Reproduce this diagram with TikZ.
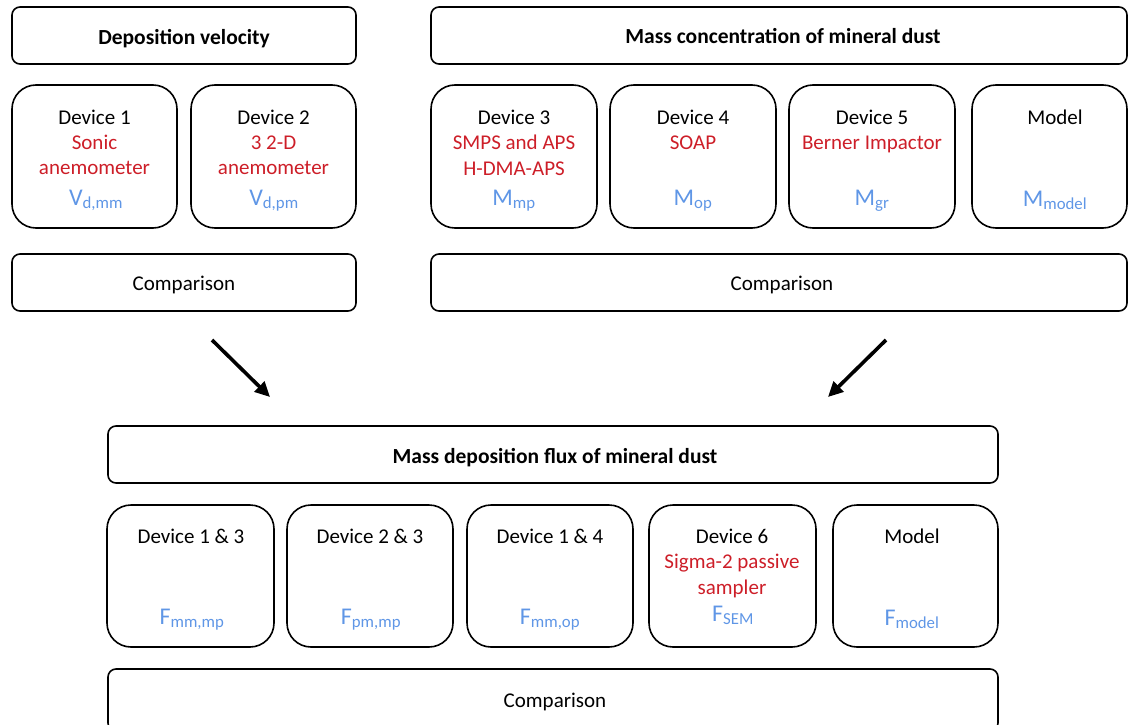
\documentclass[tikz,border=0pt]{standalone}
\usepackage{fontspec}
\setmainfont{Carlito}
\usetikzlibrary{arrows.meta}
\definecolor{devred}{RGB}{205,30,40}
\definecolor{qblue}{RGB}{95,150,230}
\begin{document}
\begin{tikzpicture}[x=1pt,y=-1pt,
  hdrbox/.style={draw=black, line width=1.6pt, rounded corners=8pt, inner sep=0pt},
  devbox/.style={draw=black, line width=1.6pt, rounded corners=24pt, inner sep=0pt},
  txt/.style={anchor=base, inner sep=0pt, font=\fontsize{21}{25}\selectfont},
  hdrtxt/.style={txt, font=\fontsize{21.5}{25}\selectfont\bfseries},
  red/.style={txt, text=devred},
  qty/.style={txt, text=qblue, font=\fontsize{24}{25}\selectfont},
  bigarrow/.style={line width=3.6pt, -{Triangle[length=15pt,width=14pt]}}]
\useasboundingbox (0,0) rectangle (1132,725);
\clip (0,0) rectangle (1132,725);
% ---- top left block
\node[hdrbox, minimum width=344, minimum height=57] (dv) at (184,35.5) {};
\node[hdrtxt] (dvt) at (184,45) {Deposition velocity};
\node[devbox, minimum width=165, minimum height=143] (d1) at (94.5,156.5) {};
\node[devbox, minimum width=165, minimum height=143] (d2) at (273.5,156.5) {};
\node[hdrbox, minimum width=344, minimum height=57] (c1) at (184,282.5) {};
\node[txt] (c1t) at (184,290) {Comparison};
\node[txt] (d1a) at (94.5,124) {Device 1};
\node[red] (d1b) at (94.5,149) {Sonic};
\node[red] (d1c) at (94.5,174) {anemometer};
\node[qty] (d1q) at (96,205) {V\textsubscript{d,mm}};
\node[txt] (d2a) at (273.5,124) {Device 2};
\node[red] (d2b) at (273.5,149) {3 2-D};
\node[red] (d2c) at (273.5,174) {anemometer};
\node[qty] (d2q) at (274,205) {V\textsubscript{d,pm}};
% ---- top right block
\node[hdrbox, minimum width=696, minimum height=57] (mc) at (779,35.5) {};
\node[hdrtxt] (mct) at (783,44) {Mass concentration of mineral dust};
\node[devbox, minimum width=166, minimum height=143] (d3) at (514,156.5) {};
\node[devbox, minimum width=166, minimum height=143] (d4) at (693,156.5) {};
\node[devbox, minimum width=166, minimum height=143] (d5) at (872,156.5) {};
\node[devbox, minimum width=155, minimum height=143] (m1) at (1049.5,156.5) {};
\node[hdrbox, minimum width=696, minimum height=57] (c2) at (779,282.5) {};
\node[txt] (c2t) at (782,290) {Comparison};
\node[txt] (d3a) at (514,124) {Device 3};
\node[red] (d3b) at (514,149) {SMPS and APS};
\node[red] (d3c) at (514,175) {H-DMA-APS};
\node[qty] (d3q) at (514,205) {M\textsubscript{mp}};
\node[txt] (d4a) at (693,124) {Device 4};
\node[red] (d4b) at (693,149) {SOAP};
\node[qty] (d4q) at (693,205) {M\textsubscript{op}};
\node[txt] (d5a) at (872,124) {Device 5};
\node[red] (d5b) at (872,149) {Berner Impactor};
\node[qty] (d5q) at (872,205) {M\textsubscript{gr}};
\node[txt] (m1a) at (1055,124) {Model};
\node[qty] (m1q) at (1055,206) {M\textsubscript{model}};
% ---- arrows
\coordinate (a1s) at (212,340);
\coordinate (a1e) at (270,397);
\coordinate (a2s) at (886,340);
\coordinate (a2e) at (828,397);
\draw[bigarrow] (a1s) -- (a1e);
\draw[bigarrow] (a2s) -- (a2e);
% ---- bottom block
\node[hdrbox, minimum width=890, minimum height=57] (fx) at (553,454.5) {};
\node[hdrtxt] (fxt) at (555,463) {Mass deposition flux of mineral dust};
\node[devbox, minimum width=167, minimum height=142] (f1) at (190.5,576) {};
\node[devbox, minimum width=166, minimum height=142] (f2) at (370,576) {};
\node[devbox, minimum width=166, minimum height=142] (f3) at (550,576) {};
\node[devbox, minimum width=167, minimum height=142] (f4) at (732.5,576) {};
\node[devbox, minimum width=165, minimum height=142] (f5) at (915.5,576) {};
\node[hdrbox, minimum width=890, minimum height=62] (c3) at (553,700) {};
\node[txt] (c3t) at (555,707) {Comparison};
\node[txt] (f1a) at (191,543) {Device 1 \& 3};
\node[qty] (f1q) at (192,624) {F\textsubscript{mm,mp}};
\node[txt] (f2a) at (370,543) {Device 2 \& 3};
\node[qty] (f2q) at (371,624) {F\textsubscript{pm,mp}};
\node[txt] (f3a) at (550,543) {Device 1 \& 4};
\node[qty] (f3q) at (550,624) {F\textsubscript{mm,op}};
\node[txt] (f4a) at (732,543) {Device 6};
\node[red] (f4b) at (732,568) {Sigma-2 passive};
\node[red] (f4c) at (732,594) {sampler};
\node[qty] (f4q) at (733,621) {F\textsubscript{SEM}};
\node[txt] (f5a) at (912,543) {Model};
\node[qty] (f5q) at (912,625) {F\textsubscript{model}};
\end{tikzpicture}
\end{document}
